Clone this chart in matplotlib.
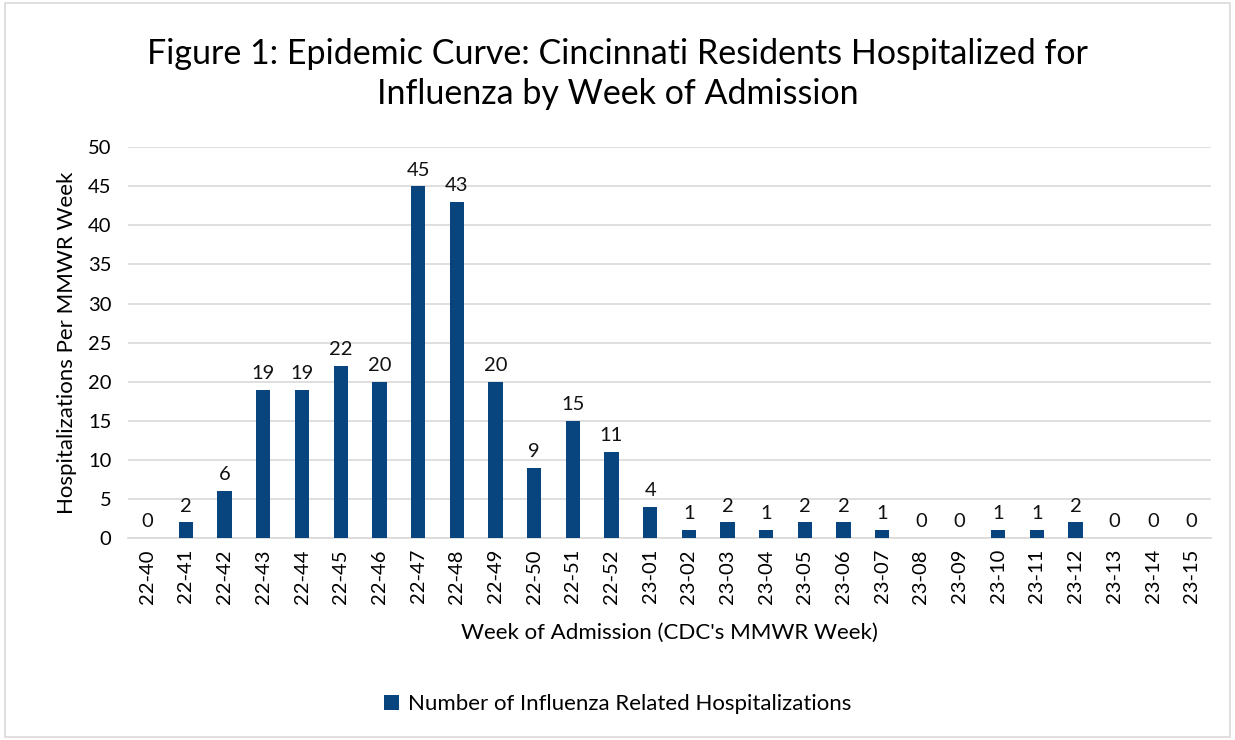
import matplotlib
matplotlib.use("Agg")
import matplotlib.pyplot as plt
from matplotlib.patches import Rectangle

weeks = ["22-40", "22-41", "22-42", "22-43", "22-44", "22-45", "22-46", "22-47",
         "22-48", "22-49", "22-50", "22-51", "22-52", "23-01", "23-02", "23-03",
         "23-04", "23-05", "23-06", "23-07", "23-08", "23-09", "23-10", "23-11",
         "23-12", "23-13", "23-14", "23-15"]
counts = [0, 2, 6, 19, 19, 22, 20, 45, 43, 20, 9, 15, 11, 4, 1, 2, 1, 2, 2, 1,
          0, 0, 1, 1, 2, 0, 0, 0]

plt.rcParams["font.family"] = ["Lato", "DejaVu Sans"]

fig = plt.figure(figsize=(12.35, 7.4), dpi=100)
ax = fig.add_axes([0.1036, 0.273, 0.877, 0.528])

x = list(range(len(weeks)))
bars = ax.bar(x, counts, width=0.37, color="#08457E", zorder=3,
              label="Number of Influenza Related Hospitalizations")
for xi, v in zip(x, counts):
    ax.text(xi, v + 1.0, str(v), ha="center", va="bottom", fontsize=14.5, color="#111111")

ax.set_xlim(-0.5, len(weeks) - 0.5)
ax.set_ylim(0, 50)
ax.set_yticks(range(0, 51, 5))
ax.set_xticks(x)
ax.set_xticklabels(weeks, rotation=90, fontsize=14.5)
ax.tick_params(axis="y", labelsize=14.5, length=0, pad=12)
ax.tick_params(axis="x", length=0, pad=8)
ax.grid(axis="y", color="#d9d9d9", linewidth=1.2, zorder=0)
for s in ["top", "right", "left"]:
    ax.spines[s].set_visible(False)
ax.spines["bottom"].set_color("#d9d9d9")
ax.spines["bottom"].set_linewidth(1.2)

ax.set_ylabel("Hospitalizations Per MMWR Week", fontsize=16, labelpad=8)
ax.set_xlabel("Week of Admission (CDC's MMWR Week)", fontsize=16, labelpad=14)

fig.text(0.5, 0.9, "Figure 1: Epidemic Curve: Cincinnati Residents Hospitalized for\nInfluenza by Week of Admission",
         ha="center", va="center", fontsize=24.5, linespacing=1.3)

fig.legend(handles=[bars], loc="center", bbox_to_anchor=(0.5, 0.048), frameon=False,
           fontsize=16, handlelength=0.7, handleheight=0.7, handletextpad=0.4)

fig.patches.append(Rectangle((0.004, 0.004), 0.992, 0.992, transform=fig.transFigure,
                             fill=False, edgecolor="#d9d9d9", linewidth=1.2))

fig.savefig("out.png", dpi=100)
